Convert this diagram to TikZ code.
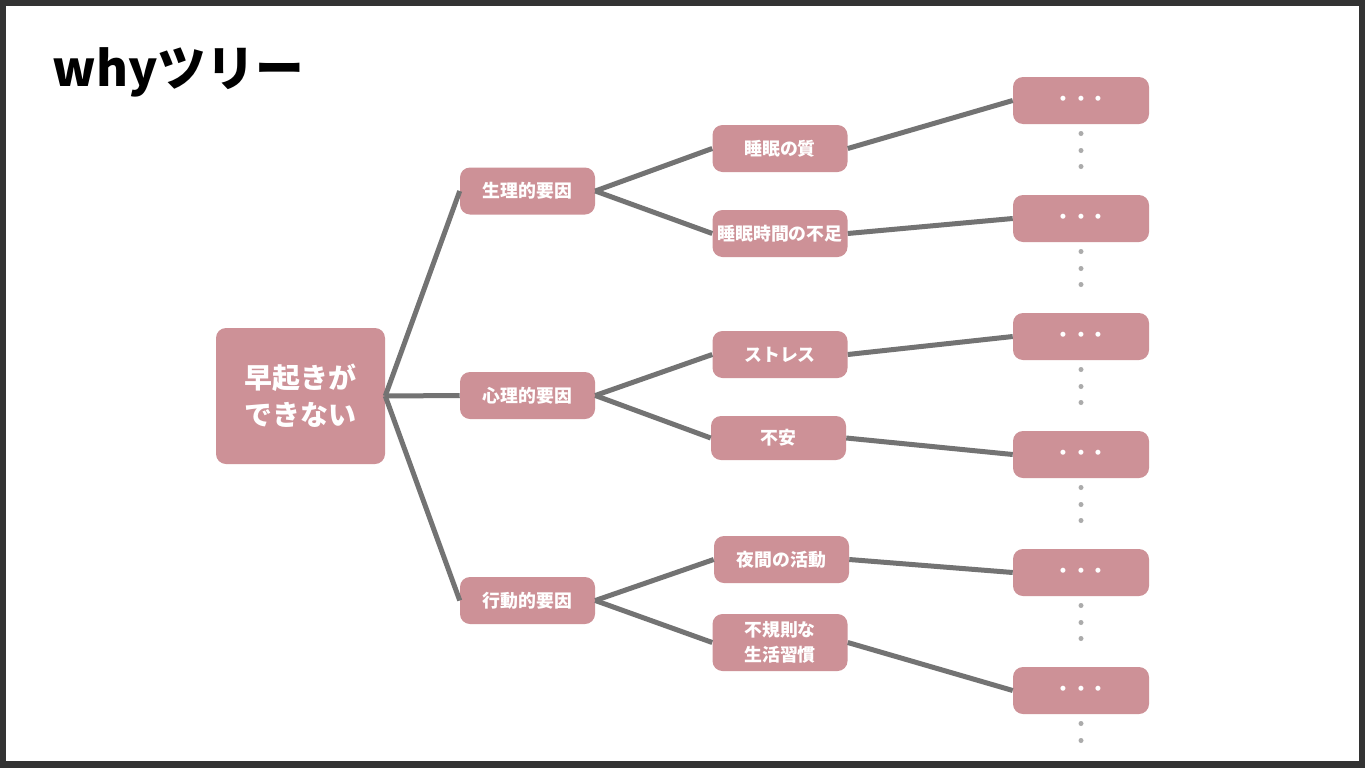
\documentclass[tikz,border=0pt]{standalone}
\usepackage{fontspec}
\setmainfont{Noto Sans CJK JP}
\usetikzlibrary{calc}
\definecolor{boxpink}{HTML}{CD9197}
\definecolor{linegray}{HTML}{737373}
\definecolor{dotgray}{HTML}{ABABAB}
\definecolor{framegray}{HTML}{333333}
\tikzset{
  cause/.style={fill=boxpink, rounded corners=7.5pt, text=white, inner sep=0pt, align=center,
    font=\bfseries\fontsize{13.4}{18.75}\selectfont, minimum width=101.25pt, minimum height=35.25pt},
  rootbox/.style={cause, font=\bfseries\fontsize{21}{27.75}\selectfont, minimum width=126.75pt, minimum height=102pt},
  link/.style={linegray, line width=3.75pt},
}

\begin{document}
\begin{tikzpicture}[x=0.75pt,y=-0.75pt]
       % frame
       \fill[framegray] (0,0) rectangle (1365,768);
       \fill[white] (6,6) rectangle (1359,761);
       \useasboundingbox (0,0) rectangle (1365,768);
       \node[anchor=west,font=\bfseries\fontsize{36.5}{42}\selectfont] (T) at (48,72) {whyツリー};
       % nodes
       \node[rootbox] (R) at (300.5,396) {早起きが\\できない};
       \node[cause] (P1) at (527.5,191) {生理的要因};
       \node[cause] (P2) at (527.5,395.5) {心理的要因};
       \node[cause] (P3) at (527.5,600.5) {行動的要因};
       \node[cause] (Q1) at (780,148.5) {睡眠の質};
       \node[cause] (Q2) at (780,233.5) {睡眠時間の不足};
       \node[cause] (Q3) at (780,354.5) {ストレス};
       \node[cause,minimum height=33pt] (Q4) at (778.5,438) {不安};
       \node[cause] (Q5) at (781.5,559.5) {夜間の活動};
       \node[cause,minimum height=42.75pt] (Q6) at (780,642.5) {不規則な\\生活習慣};
       \foreach \i/\y in {1/100.5,2/218.5,3/336.5,4/454.5,5/572.5,6/690.5}
         \node[cause,minimum width=102pt] (S\i) at (1081,\y) {・・・};
       % connectors
       \foreach \p in {P1,P2,P3}
         \draw[link] (R.east) -- (\p.west);
       \draw[link] (P1.east) -- (Q1.west);
       \draw[link] (P1.east) -- (Q2.west);
       \draw[link] (P2.east) -- (Q3.west);
       \draw[link] (P2.east) -- (Q4.west);
       \draw[link] (P3.east) -- (Q5.west);
       \draw[link] (P3.east) -- (Q6.west);
       \foreach \i in {1,...,6}
         \draw[link] (Q\i.east) -- (S\i.west);
       % more causes below
       \foreach \i in {1,...,5}
         \foreach \d in {33,50,66}
           \fill[dotgray] ($(S\i.center)+(0,\d)$) circle (2.5);
       \foreach \d in {33,50}
         \fill[dotgray] ($(S6.center)+(0,\d)$) circle (2.5);
\end{tikzpicture}
\end{document}
